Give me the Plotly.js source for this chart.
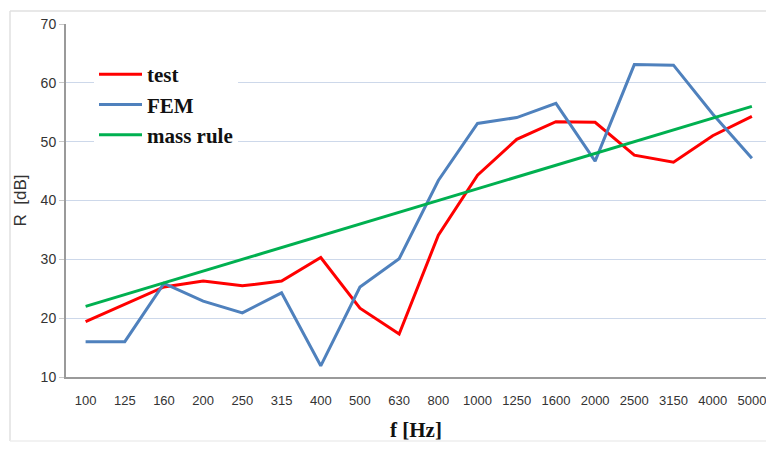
<!DOCTYPE html>
<html>
<head>
<meta charset="utf-8">
<script src="https://cdn.plot.ly/plotly-3.0.1.min.js"></script>
<style>
  html, body { margin: 0; padding: 0; background: #ffffff; }
  #chart { width: 766px; height: 451px; }
</style>
</head>
<body>
<div id="chart"></div>
<script>
// One-third-octave band centre frequencies, Hz
const frequencies = ['100', '125', '160', '200', '250', '315', '400', '500', '630',
                     '800', '1000', '1250', '1600', '2000', '2500', '3150', '4000', '5000'];

// Sound reduction index R, dB
const testValues = [19.4, 22.4, 25.3, 26.3, 25.5, 26.3, 30.3, 21.7, 17.3,
                    34.1, 44.3, 50.4, 53.4, 53.3, 47.7, 46.5, 51.0, 54.3];
const femValues  = [16.0, 16.0, 25.9, 22.9, 20.9, 24.3, 11.9, 25.3, 30.1,
                    43.4, 53.1, 54.1, 56.5, 46.7, 63.1, 63.0, 54.7, 47.2];
const massRule   = [22, 24, 26, 28, 30, 32, 34, 36, 38,
                    40, 42, 44, 46, 48, 50, 52, 54, 56];

const seriesNames = ['test', 'FEM', 'mass rule'];
const yTicks = [10, 20, 30, 40, 50, 60, 70];

const serif = '"Liberation Serif", "Times New Roman", serif';
const sans = '"Liberation Sans", Arial, sans-serif';

const traces = [
  { x: frequencies, y: testValues, name: seriesNames[0], type: 'scatter', mode: 'lines',
    line: { color: '#ff0000', width: 3 } },
  { x: frequencies, y: femValues, name: seriesNames[1], type: 'scatter', mode: 'lines',
    line: { color: '#4f81bd', width: 3 } },
  { x: frequencies, y: massRule, name: seriesNames[2], type: 'scatter', mode: 'lines',
    line: { color: '#00b050', width: 3 } }
];

const layout = {
  width: 766,
  height: 451,
  margin: { l: 66, r: 0, t: 24, b: 74 },
  paper_bgcolor: '#ffffff',
  plot_bgcolor: '#ffffff',
  showlegend: true,
  legend: {
    x: 0.04, y: 0.915, xanchor: 'left', yanchor: 'top',
    bgcolor: 'rgba(255,255,255,1)',
    itemwidth: 43,
    font: { family: serif, size: 21, color: '#111111', weight: 'bold' },
    traceorder: 'normal'
  },
  xaxis: {
    type: 'category',
    range: [-0.5, 17.36],
    showgrid: false,
    showline: true, linecolor: '#9a9a9a', linewidth: 2,
    ticks: 'outside', ticklen: 10, tickcolor: 'rgba(0,0,0,0)',
    tickfont: { family: sans, size: 13, color: '#333333' },
    title: {
      text: 'f [Hz]',
      font: { family: serif, size: 21, color: '#111111', weight: 'bold' },
      standoff: 16
    },
    zeroline: false,
    fixedrange: true
  },
  yaxis: {
    range: [10, 70],
    tickvals: yTicks,
    showgrid: true, gridcolor: '#cdd8ea', gridwidth: 1,
    showline: true, linecolor: '#9a9a9a', linewidth: 2,
    ticks: 'outside', ticklen: 5, tickcolor: '#c8c8c8',
    tickfont: { family: sans, size: 14, color: '#333333' },
    title: {
      text: 'R\u00a0\u00a0[dB]',
      font: { family: sans, size: 17, color: '#333333' },
      standoff: 10
    },
    zeroline: false,
    fixedrange: true
  },
  shapes: [
    // light frame around the chart area
    { type: 'line', xref: 'paper', yref: 'paper', x0: -0.08, x1: 1.0, y0: 1.037, y1: 1.037,
      line: { color: '#e0e0e0', width: 1.5 } },
    { type: 'line', xref: 'paper', yref: 'paper', x0: -0.08, x1: -0.08, y0: 1.037, y1: -0.181,
      line: { color: '#e0e0e0', width: 1.5 } },
    { type: 'line', xref: 'paper', yref: 'paper', x0: -0.08, x1: 1.0, y0: -0.181, y1: -0.181,
      line: { color: '#eeeeee', width: 1.5 } }
  ]
};

Plotly.newPlot('chart', traces, layout, { displayModeBar: false, staticPlot: true });
</script>
</body>
</html>
